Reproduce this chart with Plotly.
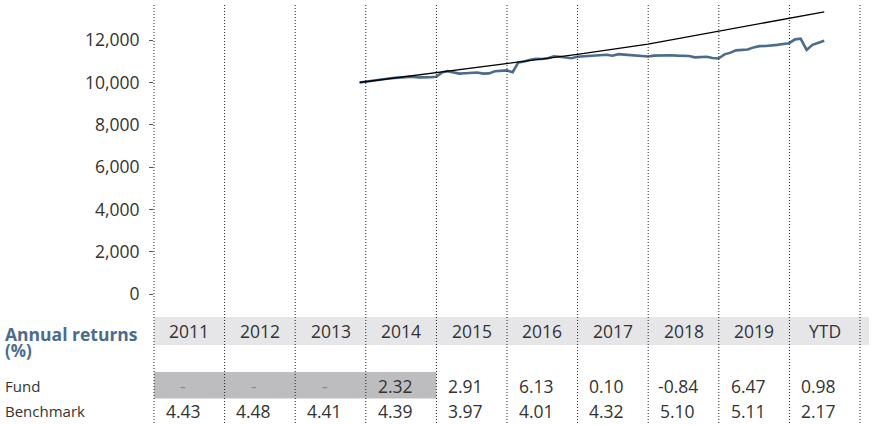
import pandas as pd
import plotly.graph_objects as go

# ---- data -------------------------------------------------------------
start_month = "2013-11-30"
fund_values = [
    10000, 10040,
    # 2014
    10090, 10140, 10170, 10190, 10220, 10240, 10260, 10275, 10240, 10235, 10245, 10273,
    # 2015
    10480, 10535, 10480, 10420, 10440, 10460, 10470, 10420, 10430, 10530, 10550, 10572,
    # 2016
    10490, 10950, 10990, 11080, 11120, 11110, 11150, 11240, 11220, 11190, 11150, 11220,
    # 2017
    11240, 11255, 11270, 11290, 11310, 11265, 11340, 11320, 11290, 11270, 11250, 11231,
    # 2018
    11270, 11280, 11300, 11290, 11270, 11260, 11255, 11190, 11200, 11215, 11160, 11137,
    # 2019
    11330, 11400, 11520, 11540, 11560, 11660, 11720, 11725, 11740, 11780, 11820, 11858,
    # 2020
    12040, 12070, 11540, 11780, 11880, 11974,
]
bench_dates = ["2013-11-30", "2013-12-31", "2014-12-31", "2015-12-31", "2016-12-31",
               "2017-12-31", "2018-12-31", "2019-12-31", "2020-06-30"]
bench_values = [10000, 10036, 10477, 10893, 11330, 11819, 12422, 13057, 13340]

years = ["2011", "2012", "2013", "2014", "2015", "2016", "2017", "2018", "2019", "YTD"]
fund_returns = ["-", "-", "-", "2.32", "2.91", "6.13", "0.10", "-0.84", "6.47", "0.98"]
bench_returns = ["4.43", "4.48", "4.41", "4.39", "3.97", "4.01", "4.32", "5.10", "5.11", "2.17"]
y_ticks = [0, 2000, 4000, 6000, 8000, 10000, 12000]

fund_dates = pd.date_range(start_month, periods=len(fund_values), freq="ME")

# ---- styling / geometry ----------------------------------------------
W, H = 872, 425
ML, MR, MT = 154, 12, 4
PLOT_BOTTOM = 294          # pixel row of y=0
plot_h = PLOT_BOTTOM - MT
MB = H - PLOT_BOTTOM
plot_w = W - ML - MR
FONT = "Open Sans"
TXT = "#333333"
BLUE = "#4b6c8c"
NUM = 17.5


def py(pix):   # pixel row -> paper y
    return (PLOT_BOTTOM - pix) / plot_h


def px(pix):   # pixel column -> paper x
    return (pix - ML) / plot_w


fig = go.Figure()
fig.add_trace(go.Scatter(x=fund_dates, y=fund_values, mode="lines",
                         line=dict(color=BLUE, width=2.6), name="Fund",
                         hoverinfo="skip"))
fig.add_trace(go.Scatter(x=pd.to_datetime(bench_dates), y=bench_values, mode="lines",
                         line=dict(color="#000000", width=1.3), name="Benchmark",
                         hoverinfo="skip"))

shapes = []
# header band
shapes.append(dict(type="rect", xref="paper", yref="paper", x0=0, x1=px(869),
                   y0=py(345), y1=py(317), fillcolor="#e6e6e8", line_width=0,
                   layer="below"))
# fund "no data" band (2011-2014)
shapes.append(dict(type="rect", xref="paper", yref="paper", x0=0, x1=4 / 10,
                   y0=py(398.5), y1=py(372), fillcolor="#bdbdbf", line_width=0,
                   layer="below"))
# vertical dotted column lines
n = len(years)
for i in range(n + 1):
    shapes.append(dict(type="line", xref="paper", yref="paper", x0=i / n, x1=i / n,
                       y0=py(423), y1=py(4),
                       line=dict(color="#222222", width=1, dash="1px,2px"),
                       layer="above"))

annotations = []
for i, yr in enumerate(years):
    cx = (i + 0.5) / n
    annotations.append(dict(x=cx, y=py(331), xref="paper", yref="paper", text=yr,
                            showarrow=False, xanchor="center", yanchor="middle",
                            font=dict(size=NUM, color=TXT, family=FONT)))
    fr = fund_returns[i]
    annotations.append(dict(x=cx, y=py(386), xref="paper", yref="paper", text=fr,
                            showarrow=False, xanchor="center", yanchor="middle", xshift=-6,
                            font=dict(size=NUM, color="#8a8a8a" if fr == "-" else TXT,
                                      family=FONT)))
    annotations.append(dict(x=cx, y=py(411), xref="paper", yref="paper",
                            text=bench_returns[i], showarrow=False, xanchor="center",
                            yanchor="middle", xshift=-6,
                            font=dict(size=NUM, color=TXT, family=FONT)))

annotations += [
    dict(x=px(3), y=py(334), xref="paper", yref="paper", text="<b>Annual returns</b>",
         showarrow=False, xanchor="left", yanchor="middle",
         font=dict(size=17.5, color=BLUE, family=FONT)),
    dict(x=px(3), y=py(350), xref="paper", yref="paper", text="<b>(%)</b>",
         showarrow=False, xanchor="left", yanchor="middle",
         font=dict(size=17, color=BLUE, family=FONT)),
    dict(x=px(3), y=py(386), xref="paper", yref="paper", text="Fund",
         showarrow=False, xanchor="left", yanchor="middle",
         font=dict(size=15, color=TXT, family=FONT)),
    dict(x=px(3), y=py(411), xref="paper", yref="paper", text="Benchmark",
         showarrow=False, xanchor="left", yanchor="middle",
         font=dict(size=15, color=TXT, family=FONT)),
]

ymax = 2000 * plot_h / 42.3
fig.update_layout(
    width=W, height=H,
    margin=dict(l=ML, r=MR, t=MT, b=MB, pad=0),
    paper_bgcolor="white", plot_bgcolor="white",
    showlegend=False,
    font=dict(family=FONT, color=TXT, size=16),
    xaxis=dict(type="date", range=["2011-01-01", "2021-01-01"], showgrid=False,
               zeroline=False, showline=False, showticklabels=False, ticks=""),
    yaxis=dict(range=[0, ymax], tickvals=y_ticks, tickformat=",d",
               showgrid=False, zeroline=False, showline=False,
               ticks="outside", ticklen=4, tickcolor="#555555", tickwidth=1,
               ticklabelstandoff=6,
               tickfont=dict(size=NUM, color=TXT, family=FONT)),
    shapes=shapes,
    annotations=annotations,
)

fig.write_html("out.html", config={"displayModeBar": False},
               post_script="document.body.style.margin='0px';")
